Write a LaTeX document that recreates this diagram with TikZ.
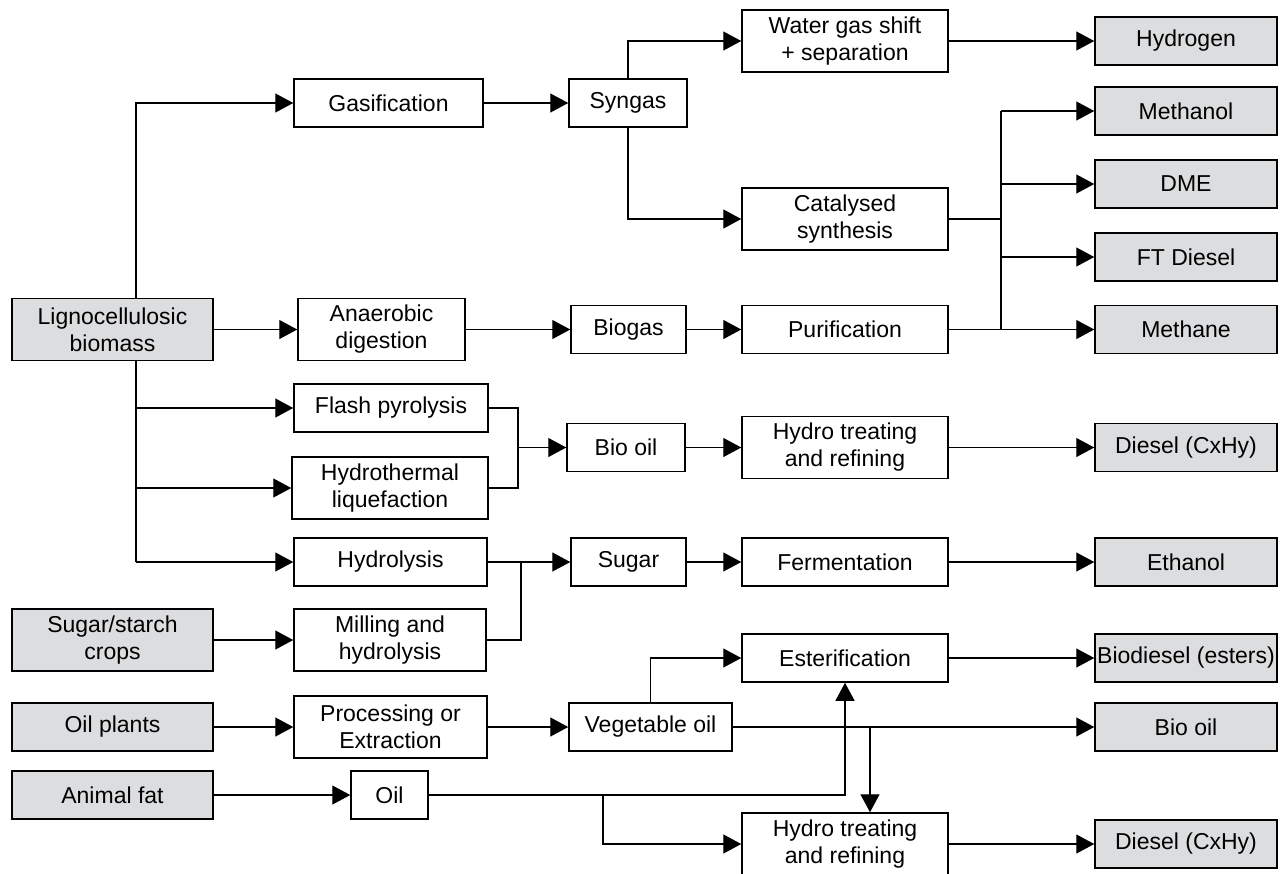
\documentclass[tikz,border=0pt]{standalone}
\usepackage{fontspec}
\setmainfont{Liberation Sans}
\usetikzlibrary{arrows.meta}
\definecolor{prodgray}{HTML}{DCDDDF}
\tikzset{
  proc/.style={draw, line width=0.75pt, fill=white, align=center, inner sep=0pt,
    minimum height=24pt, font=\fontsize{11.5}{13.5}\selectfont},
  twoline/.style={minimum height=31pt},
  prod/.style={proc, fill=prodgray, minimum width=91pt},
  src/.style={proc, fill=prodgray, minimum width=100.5pt},
  link/.style={line width=0.65pt},
  arr/.style={link, -{Triangle[length=9pt, width=9.5pt]}}
}
\begin{document}
\begin{tikzpicture}[x=0.5pt, y=-0.5pt]
\useasboundingbox (0,0) rectangle (1288,873);
% sources
\node[src, twoline] (ligno) at (112.5,329.5) {Lignocellulosic\\biomass};
\node[src, twoline] (sugcrop) at (112.5,640) {Sugar/starch\\crops};
\node[src] (oilpl) at (112.5,727) {Oil plants};
\node[src] (animal) at (112.5,795) {Animal fat};
% first step
\node[proc, minimum width=94.5pt] (gasif) at (388.5,103) {Gasification};
\node[proc, twoline, minimum width=83.5pt] (anaer) at (381.5,329.5) {Anaerobic\\digestion};
\node[proc, minimum width=97pt] (flash) at (391,408) {Flash pyrolysis};
\node[proc, twoline, minimum width=98pt] (hydroth) at (390,488) {Hydrothermal\\liquefaction};
\node[proc, minimum width=96.5pt] (hydrol) at (390.5,562) {Hydrolysis};
\node[proc, twoline, minimum width=96pt] (milling) at (390,640) {Milling and\\hydrolysis};
\node[proc, twoline, minimum width=96.5pt] (process) at (390.5,727) {Processing or\\Extraction};
\node[proc, minimum width=38.5pt] (oil) at (389.5,795) {Oil};
% intermediates
\node[proc, minimum width=59pt] (syngas) at (628,103) {Syngas};
\node[proc, minimum width=57.5pt] (biogas) at (628.5,329.5) {Biogas};
\node[proc, minimum width=59pt] (biooil) at (626,447.5) {Bio oil};
\node[proc, minimum width=57.5pt] (sugar) at (628.5,562) {Sugar};
\node[proc, minimum width=81.5pt] (vegoil) at (650.5,727) {Vegetable oil};
% conversion
\node[proc, twoline, minimum width=103pt] (wgs) at (845,41) {Water gas shift\\+ separation};
\node[proc, twoline, minimum width=103pt] (catal) at (845,219) {Catalysed\\synthesis};
\node[proc, minimum width=103pt] (purif) at (845,329.5) {Purification};
\node[proc, twoline, minimum width=103pt] (htr) at (845,447.5) {Hydro treating\\and refining};
\node[proc, minimum width=103pt] (ferment) at (845,562) {Fermentation};
\node[proc, minimum width=103pt] (ester) at (845,658) {Esterification};
\node[proc, twoline, minimum width=103pt] (htrb) at (845,844) {Hydro treating\\and refining};
% products
\node[prod] (hydrogen) at (1186,41) {Hydrogen};
\node[prod] (methanol) at (1186,111) {Methanol};
\node[prod] (dme) at (1186,184) {DME};
\node[prod] (ftdiesel) at (1186,257) {FT Diesel};
\node[prod] (methane) at (1186,329.5) {Methane};
\node[prod] (diesel) at (1186,447.5) {Diesel (CxHy)};
\node[prod] (ethanol) at (1186,562) {Ethanol};
\node[prod] (biodiesel) at (1186,658) {Biodiesel (esters)};
\node[prod] (biooilp) at (1186,727) {Bio oil};
\node[prod] (dieselb) at (1186,844) {Diesel (CxHy)};
% branch points
\coordinate (trunk) at (136,0);
\coordinate (jcat) at (1001,0);
\coordinate (jbio) at (518,0);
\coordinate (jsug) at (521,0);
\coordinate (jveg) at (870,0);
\coordinate (joil) at (603,0);

\draw[arr] (ligno.north -| trunk) |- (gasif);
\draw[link] (ligno.south -| trunk) -- (trunk |- hydrol);
\draw[arr] (trunk |- flash) -- (flash);
\draw[arr] (trunk |- hydroth) -- (hydroth);
\draw[arr] (trunk |- hydrol) -- (hydrol);
\draw[arr] (ligno) -- (anaer);

\draw[arr] (gasif) -- (syngas);
\draw[arr] (syngas.north) |- (wgs);
\draw[arr] (syngas.south) |- (catal);
\draw[arr] (wgs) -- (hydrogen);

\draw[link] (catal.east) -- (catal.east -| jcat);
\draw[link] (jcat |- methanol) -- (jcat |- methane);
\draw[arr] (jcat |- methanol) -- (methanol);
\draw[arr] (jcat |- dme) -- (dme);
\draw[arr] (jcat |- ftdiesel) -- (ftdiesel);
\draw[arr] (anaer) -- (biogas);
\draw[arr] (biogas) -- (purif);
\draw[arr] (purif) -- (methane);

\draw[link] (flash.east) -| (jbio |- biooil);
\draw[link] (hydroth.east) -| (jbio |- biooil);
\draw[arr] (jbio |- biooil) -- (biooil);
\draw[arr] (biooil) -- (htr);
\draw[arr] (htr) -- (diesel);

\draw[arr] (hydrol) -- (sugar);
\draw[link] (milling.east) -| (jsug |- sugar);
\draw[arr] (sugcrop) -- (milling);
\draw[arr] (sugar) -- (ferment);
\draw[arr] (ferment) -- (ethanol);

\draw[arr] (oilpl) -- (process);
\draw[arr] (process) -- (vegoil);
\draw[arr] (vegoil.north) |- (ester);
\draw[arr] (vegoil) -- (biooilp);
\draw[arr] (jveg |- vegoil) -- (jveg |- htrb.north);
\draw[arr] (ester) -- (biodiesel);

\draw[arr] (animal) -- (oil);
\draw[arr] (oil.east) -| (ester.south);
\draw[arr] (joil |- oil) |- (htrb);
\draw[arr] (htrb) -- (dieselb);
\end{tikzpicture}
\end{document}
